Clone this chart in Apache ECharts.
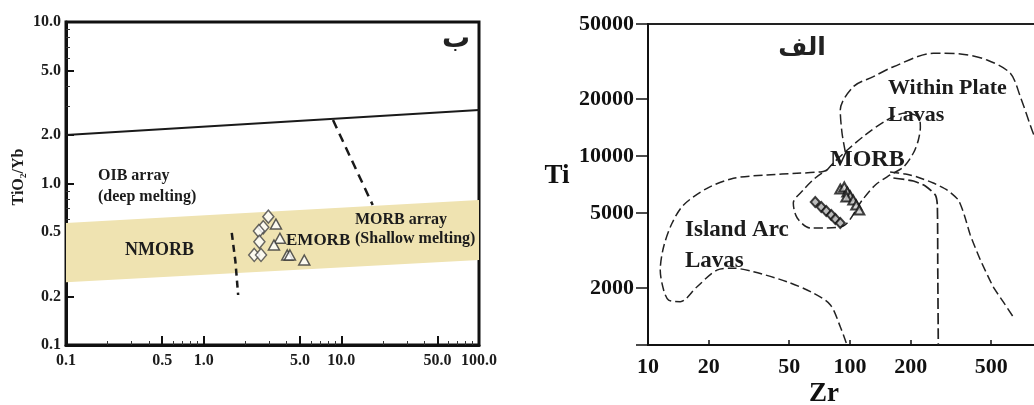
<!DOCTYPE html>
<html>
<head>
<meta charset="utf-8">
<title>TiO2/Yb & Ti-Zr</title>
<script src="https://cdn.jsdelivr.net/npm/echarts@6/dist/echarts.min.js"></script>
<style>
  html, body { margin: 0; padding: 0; background: #fff; }
  #chart { width: 1034px; height: 405px; }
</style>
</head>
<body>
<div id="chart"></div>
<script>
// ---- left panel (ب): TiO2/Yb ----
const leftXTicksMinor = [0.2, 0.3, 0.4, 0.6, 0.7, 0.8, 0.9, 2, 3, 4, 6, 7, 8, 9, 20, 30, 40, 60, 70, 80, 90];
const leftXTicksMajor = [0.5, 1, 5, 10, 50];
const leftXLabels = [0.1, 0.5, 1, 5, 10, 50, 100];
const leftYTicksMinor = [0.3, 0.4, 0.6, 0.7, 0.8, 0.9, 3, 4, 6, 7, 8, 9];
const leftYTicksMajor = [0.2, 0.5, 1, 2, 5];
const leftYLabels = [0.1, 0.2, 0.5, 1, 2, 5, 10];

const oibLine = [[0.1, 2.0], [100, 2.85]];
const morbDivide = [[8.7, 2.47], [16.9, 0.736]];
const nmorbDivide = [[1.6, 0.494], [1.7, 0.33], [1.78, 0.204]];
const morbBand = [[0.1, 0.569], [100, 0.79], [100, 0.336], [0.1, 0.245]];

const leftDiamonds = [[2.95, 0.623], [2.71, 0.536], [2.52, 0.508], [2.54, 0.436], [2.33, 0.361], [2.61, 0.361]];
const leftTriangles = [[3.35, 0.561], [3.58, 0.458], [3.24, 0.416], [4.05, 0.361], [4.23, 0.361], [5.38, 0.336]];

// ---- right panel (الف): Ti - Zr ----
const rightXTicks = [10, 20, 50, 100, 200, 500, 1000];
const rightXLabels = [10, 20, 50, 100, 200, 500];
const rightYTicks = [1000, 2000, 5000, 10000, 20000, 50000];
const rightYLabels = [2000, 5000, 10000, 20000, 50000];

const islandArcLine = [
  [77, 8440], [72.7, 8270], [54.6, 8100], [38.8, 7940], [26.5, 7630], [19.6, 6750],
  [15.0, 5510], [13.15, 4410], [11.95, 3310], [11.5, 2490], [11.95, 1955], [12.65, 1730],
  [14.45, 1695], [17.5, 2035], [21.95, 2490], [26.5, 2550], [33.3, 2440], [48.8, 2160],
  [66, 1880], [80, 1630], [89.5, 1250], [96.6, 1000]
];
const morbField = [
  [77, 8440], [82.7, 9190], [97, 10770], [119, 12930], [152.5, 15520], [188, 16900],
  [218, 16100], [223, 14250], [218, 12170], [206, 10380], [184, 8750], [158, 7940],
  [133.5, 7030], [115, 5850], [92.6, 4265], [73.8, 4160], [63.6, 4160], [54.8, 4700],
  [52.4, 5640], [58.7, 6610], [67.3, 7655], [77, 8440]
];
const withinPlateLine = [
  [94.8, 10510], [91.3, 13250], [89.5, 17530], [103.8, 23290], [130.4, 26310], [164, 29720],
  [258.5, 34990], [352, 34690], [477, 32240], [622, 27420], [697, 20620], [796, 13740], [927, 8970]
];
const outerRightLine = [
  [158, 8230], [188, 8040], [215, 7750], [258.5, 7200], [303, 6610], [344, 5850],
  [368, 4880], [394, 3820], [442, 2820], [512, 2030], [574, 1690], [643, 1407]
];
const verticalDivide = [
  [164, 7655], [206, 7380], [236, 6940], [264.5, 6220], [270.6, 5510], [272, 2490], [273.6, 1000]
];

const rightDiamonds = [[67.3, 5710], [72.1, 5380], [76.3, 5120], [80.8, 4880], [84.6, 4645], [89.5, 4420]];
const rightTriangles = [[89.5, 6690], [93.7, 6860], [97, 6450], [100.3, 6150], [95.9, 6070], [103.8, 5850], [107.4, 5510], [111.2, 5180]];

const SERIF = '"Liberation Serif", "Times New Roman", serif';
const ARABIC = '"DejaVu Sans", sans-serif';

function fixed1(v) { return Number(v).toFixed(1); }

function dashed(data, xi, color, width, dash, smooth) {
  return {
    type: 'line', data: data, xAxisIndex: xi, yAxisIndex: xi,
    symbol: 'none', smooth: smooth || false, silent: true, z: 2,
    lineStyle: { color: color, width: width, type: dash }
  };
}

function label(text, x, y, size, opts) {
  opts = opts || {};
  return {
    type: 'text', x: x, y: y, rotation: opts.rotation || 0, z: 10,
    style: {
      text: text, fill: opts.color || '#1c1c1c',
      font: 'bold ' + size + 'px ' + (opts.family || SERIF),
      align: opts.align || 'left', verticalAlign: 'middle',
      textAlign: opts.align || 'left', textVerticalAlign: 'middle'
    }
  };
}

const chart = echarts.init(document.getElementById('chart'));

const leftLabelStyle = { fontFamily: SERIF, fontWeight: 'bold', fontSize: 16, color: '#1c1c1c' };
const rightLabelStyle = { fontFamily: SERIF, fontWeight: 'bold', fontSize: 22, color: '#111' };

chart.setOption({
  animation: false,
  backgroundColor: '#fff',
  grid: [
    { left: 66, top: 22, width: 413, height: 323, show: true, borderColor: '#111', borderWidth: 3, outerBoundsMode: 'none' },
    { left: 648, top: 24, width: 404, height: 321, show: true, borderColor: '#222', borderWidth: 2, outerBoundsMode: 'none' }
  ],
  xAxis: [
    {
      gridIndex: 0, type: 'log', logBase: 10, min: 0.1, max: 100, position: 'bottom',
      axisLine: { show: true, onZero: false, lineStyle: { color: '#111', width: 3 } },
      axisTick: { show: true, inside: true, length: 4, customValues: leftXTicksMinor, lineStyle: { color: '#333', width: 1 } },
      axisLabel: { show: false }, splitLine: { show: false }
    },
    {
      gridIndex: 0, type: 'log', logBase: 10, min: 0.1, max: 100, position: 'bottom',
      axisLine: { show: false },
      axisTick: { show: true, inside: true, length: 9, customValues: leftXTicksMajor, lineStyle: { color: '#111', width: 2 } },
      axisLabel: Object.assign({ customValues: leftXLabels, margin: 8, formatter: fixed1 }, leftLabelStyle),
      splitLine: { show: false }
    },
    {
      gridIndex: 1, type: 'log', logBase: 10, min: 10, max: 1000, position: 'bottom',
      axisLine: { show: true, onZero: false, lineStyle: { color: '#111', width: 2 } },
      axisTick: { show: true, inside: true, length: 5, customValues: rightXTicks, lineStyle: { color: '#111', width: 1.5 } },
      axisLabel: Object.assign({ customValues: rightXLabels, margin: 11, formatter: v => String(Math.round(v)) }, rightLabelStyle),
      splitLine: { show: false }
    }
  ],
  yAxis: [
    {
      gridIndex: 0, type: 'log', logBase: 10, min: 0.1, max: 10, position: 'left',
      axisLine: { show: true, onZero: false, lineStyle: { color: '#111', width: 3 } },
      axisTick: { show: true, inside: true, length: 4, customValues: leftYTicksMinor, lineStyle: { color: '#333', width: 1 } },
      axisLabel: { show: false }, splitLine: { show: false }
    },
    {
      gridIndex: 0, type: 'log', logBase: 10, min: 0.1, max: 10, position: 'left',
      axisLine: { show: false },
      axisTick: { show: true, inside: true, length: 8, customValues: leftYTicksMajor, lineStyle: { color: '#111', width: 2 } },
      axisLabel: Object.assign({ customValues: leftYLabels, margin: 5, formatter: fixed1 }, leftLabelStyle),
      splitLine: { show: false }
    },
    {
      gridIndex: 1, type: 'log', logBase: 10, min: 1000, max: 50000, position: 'left',
      axisLine: { show: true, onZero: false, lineStyle: { color: '#111', width: 2 } },
      axisTick: { show: true, inside: false, length: 12, customValues: rightYTicks, lineStyle: { color: '#111', width: 1.5 } },
      axisLabel: Object.assign({ customValues: rightYLabels, margin: 14, formatter: v => String(Math.round(v)) }, rightLabelStyle),
      splitLine: { show: false }
    }
  ],
  series: [
    // MORB array band
    {
      type: 'custom', xAxisIndex: 0, yAxisIndex: 0, z: 1, silent: true,
      data: [morbBand[0]],
      renderItem: function (params, api) {
        const pts = morbBand.map(p => api.coord(p));
        return { type: 'polygon', shape: { points: pts }, style: { fill: '#efe3b1' } };
      }
    },
    dashed(oibLine, 0, '#1a1a1a', 2, 'solid'),
    dashed(morbDivide, 0, '#1a1a1a', 2.5, [9, 6]),
    dashed(nmorbDivide, 0, '#1a1a1a', 2.5, [7, 5]),
    {
      type: 'scatter', xAxisIndex: 0, yAxisIndex: 0, z: 3, data: leftDiamonds,
      symbol: 'diamond', symbolSize: [11, 13],
      itemStyle: { color: '#fff', borderColor: '#444', borderWidth: 1.5 }
    },
    {
      type: 'scatter', xAxisIndex: 0, yAxisIndex: 0, z: 3, data: leftTriangles,
      symbol: 'triangle', symbolSize: [11, 10],
      itemStyle: { color: '#fff', borderColor: '#333', borderWidth: 1.5 }
    },
    // Ti-Zr fields
    dashed(islandArcLine, 2, '#222', 1.5, [9, 4], 0.3),
    dashed(morbField, 2, '#222', 1.5, [9, 4], 0.3),
    dashed(withinPlateLine, 2, '#222', 1.5, [10, 4], 0.3),
    dashed(outerRightLine, 2, '#222', 1.5, [9, 4], 0.2),
    dashed(verticalDivide, 2, '#222', 1.7, [11, 4], 0.2),
    {
      type: 'scatter', xAxisIndex: 2, yAxisIndex: 2, z: 3, data: rightDiamonds,
      symbol: 'diamond', symbolSize: [9, 10],
      itemStyle: { color: '#aaa', borderColor: '#111', borderWidth: 2 }
    },
    {
      type: 'scatter', xAxisIndex: 2, yAxisIndex: 2, z: 3, data: rightTriangles,
      symbol: 'triangle', symbolSize: [10, 9],
      itemStyle: { color: '#ccc', borderColor: '#111', borderWidth: 2 }
    }
  ],
  graphic: [
    // left panel texts
    label('TiO\u2082/Yb', 19, 177, 16, { rotation: Math.PI / 2, align: 'center' }),
    label('OIB array', 98, 176, 16),
    label('(deep melting)', 98, 197, 16),
    label('NMORB', 125, 250, 18),
    label('EMORB', 286, 241, 17),
    label('MORB array', 355, 220, 16),
    label('(Shallow melting)', 355, 239, 16),
    label('\u0628', 456, 40, 28, { family: ARABIC, align: 'center', color: '#222' }),
    // right panel texts
    label('\u0627\u0644\u0641', 802, 48, 25, { family: ARABIC, align: 'center', color: '#222' }),
    label('Within Plate', 888, 88, 22),
    label('Lavas', 888, 115, 22),
    label('MORB', 830, 160, 24),
    label('Island Arc', 685, 230, 23),
    label('Lavas', 685, 261, 23),
    label('Ti', 557, 176, 27, { align: 'center', color: '#111' }),
    label('Zr', 824, 394, 27, { align: 'center', color: '#111' })
  ]
});
</script>
</body>
</html>
